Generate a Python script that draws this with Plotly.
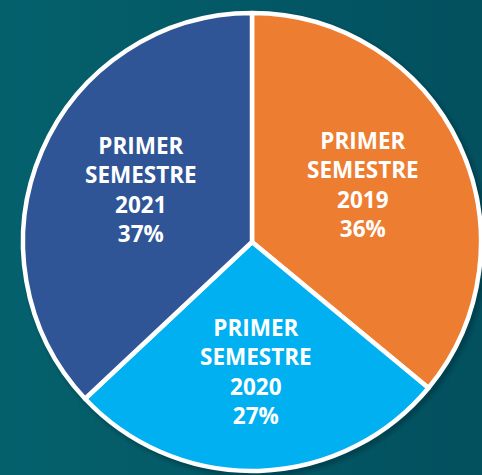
import math
import plotly.graph_objects as go

labels = ["PRIMER SEMESTRE 2019", "PRIMER SEMESTRE 2020", "PRIMER SEMESTRE 2021"]
values = [36, 27, 37]
colors = ["#ED7D31", "#00B0F0", "#2F5597"]

W, H = 482, 475
ML, MR, MT, MB = 22, 0, 13, 4
PW, PH = W - ML - MR, H - MT - MB
R = min(PW, PH) / 2.0

fig = go.Figure(go.Pie(
    labels=labels,
    values=values,
    textinfo="none",
    sort=False,
    direction="clockwise",
    rotation=0,
    marker=dict(colors=colors, line=dict(color="white", width=4.5)),
    showlegend=False,
    hoverinfo="label+percent",
    domain=dict(x=[0, 1], y=[0, 1]),
))

# labels placed at each slice's centroid (computed from the data)
total = float(sum(values))
cum = 0.0
for lab, v in zip(labels, values):
    alpha = v / total * 2 * math.pi
    mid = (cum + v / 2.0) / total * 2 * math.pi
    cum += v
    rf = 4 * R * math.sin(alpha / 2) / (3 * alpha)
    dx = math.sin(mid) * rf
    dy = math.cos(mid) * rf + 5
    txt = lab.replace("PRIMER SEMESTRE ", "PRIMER<br>SEMESTRE<br>") + "<br>%d%%" % round(v / total * 100)
    fig.add_annotation(
        x=0.5 + dx / PW, y=0.5 + dy / PH, xref="paper", yref="paper",
        text=txt, showarrow=False, align="center",
        xanchor="center", yanchor="middle",
        font=dict(family="Open Sans", size=22.5, color="white", weight="bold"),
    )

# subtle horizontal gradient background
n = 30
c0 = (4, 97, 108)
c1 = (3, 80, 95)
shapes = []
x_lo, x_hi = -ML / PW, 1 + MR / PW
for i in range(n):
    t = i / (n - 1)
    c = tuple(round(a + (b - a) * t) for a, b in zip(c0, c1))
    shapes.append(dict(type="rect", xref="paper", yref="paper", layer="below",
                       x0=x_lo + (x_hi - x_lo) * i / n - 0.002,
                       x1=x_lo + (x_hi - x_lo) * (i + 1) / n + 0.002,
                       y0=-0.1, y1=1.1,
                       fillcolor="rgb(%d,%d,%d)" % c, line=dict(width=0)))

# soft shadow behind the pie
for k, a in [(6, 0.06), (4, 0.08), (2, 0.12)]:
    rr = R + k
    cx, cy = 0.5 + 3 / PW, 0.5 - 3 / PH
    shapes.append(dict(type="circle", xref="paper", yref="paper", layer="below",
                       x0=cx - rr / PW, x1=cx + rr / PW, y0=cy - rr / PH, y1=cy + rr / PH,
                       fillcolor="rgba(0,20,30,%.2f)" % a, line=dict(width=0)))

fig.update_layout(
    width=W, height=H,
    margin=dict(l=ML, r=MR, t=MT, b=MB),
    paper_bgcolor="rgb(4,90,104)",
    plot_bgcolor="rgba(0,0,0,0)",
    shapes=shapes,
)
fig.write_html("out.html", config={"displayModeBar": False},
               post_script="document.body.style.margin='0';document.body.style.background='rgb(4,90,104)';")
